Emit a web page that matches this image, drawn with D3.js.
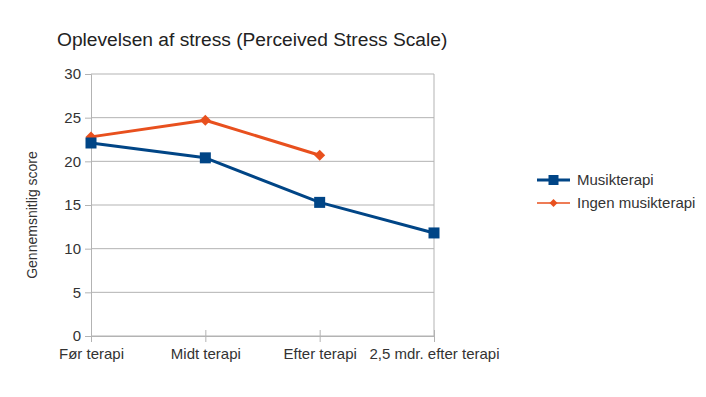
<!DOCTYPE html>
<html>
<head>
<meta charset="utf-8">
<script src="https://cdn.jsdelivr.net/npm/d3@7"></script>
<style>
  body { margin: 0; background: #fff; }
  svg { display: block; font-family: "Liberation Sans", Arial, sans-serif; }
</style>
</head>
<body>
<div id="chart"></div>
<script>
// data
const categories = ['Før terapi', 'Midt terapi', 'Efter terapi', '2,5 mdr. efter terapi'];
const musikterapi = [22.1, 20.4, 15.3, 11.8];
const ingenMusikterapi = [22.8, 24.7, 20.7, null];
const yTicks = [0, 5, 10, 15, 20, 25, 30];

const dims = { width: 706, height: 397 };
const margins = { left: 91, right: 272, top: 74, bottom: 61 };

const svg = d3.select('#chart')
  .append('svg')
  .attr('width', dims.width)
  .attr('height', dims.height);

const w = dims.width - margins.left - margins.right;
const h = dims.height - margins.top - margins.bottom;

const g = svg.append('g')
  .attr('transform', `translate(${margins.left},${margins.top})`);

const xScale = d3.scalePoint().domain(categories).range([0, w]).padding(0);
const yScale = d3.scaleLinear().domain([0, 30]).range([h, 0]);

// gridlines
g.append('g')
  .selectAll('line')
  .data(yTicks)
  .join('line')
    .attr('x1', 0)
    .attr('x2', w)
    .attr('y1', d => yScale(d))
    .attr('y2', d => yScale(d))
    .attr('stroke', '#b3b3b3')
    .attr('stroke-width', 1);

// right border
g.append('line')
  .attr('x1', w).attr('x2', w)
  .attr('y1', 0).attr('y2', h)
  .attr('stroke', '#b3b3b3');

const yAxis = d3.axisLeft(yScale).tickValues(yTicks).tickSize(6).tickPadding(4);
const yAxisGroup = g.append('g').attr('class', 'y-axis').call(yAxis);
yAxisGroup.select('.domain').attr('stroke', '#b3b3b3');
yAxisGroup.selectAll('line').attr('stroke', '#b3b3b3');
yAxisGroup.selectAll('text')
  .attr('font-size', 15)
  .attr('fill', '#333')
  .attr('font-family', 'Liberation Sans, Arial, sans-serif');

const xAxis = d3.axisBottom(xScale).tickSize(6).tickSizeOuter(0).tickPadding(6);
const xAxisGroup = g.append('g')
  .attr('class', 'x-axis')
  .attr('transform', `translate(0,${h})`)
  .call(xAxis);
xAxisGroup.select('.domain').attr('stroke', '#b3b3b3');
xAxisGroup.selectAll('line').attr('stroke', '#b3b3b3').attr('y1', -6).attr('y2', 6);
xAxisGroup.selectAll('text')
  .attr('font-size', 15)
  .attr('fill', '#333')
  .attr('font-family', 'Liberation Sans, Arial, sans-serif');

// series
const series = [
  { name: 'Musikterapi', values: musikterapi, color: '#004586', width: 3, marker: 'square' },
  { name: 'Ingen musikterapi', values: ingenMusikterapi, color: '#e8501e', width: 3, marker: 'diamond' }
];

const line = d3.line()
  .defined(d => d.v != null)
  .x(d => xScale(d.c))
  .y(d => yScale(d.v));

function marker(sel, s, size) {
  if (s.marker === 'square') {
    sel.append('rect')
      .attr('x', -size / 2).attr('y', -size / 2)
      .attr('width', size).attr('height', size)
      .attr('fill', s.color);
  } else {
    const r = size / 2;
    sel.append('path')
      .attr('d', `M0,${-r}L${r},0L0,${r}L${-r},0Z`)
      .attr('fill', s.color);
  }
}

// draw orange first, blue on top
series.slice().reverse().forEach(s => {
  const pts = categories.map((c, i) => ({ c, v: s.values[i] }));
  g.append('path')
    .datum(pts)
    .attr('d', line)
    .attr('fill', 'none')
    .attr('stroke', s.color)
    .attr('stroke-width', s.width)
    .attr('stroke-linejoin', 'round');
  pts.filter(d => d.v != null).forEach(d => {
    const m = g.append('g')
      .attr('transform', `translate(${xScale(d.c)},${yScale(d.v)})`);
    marker(m, s, 11);
  });
});

// title
svg.append('text')
  .attr('x', 57)
  .attr('y', 46)
  .attr('font-size', 19.2)
  .attr('fill', '#222')
  .text('Oplevelsen af stress (Perceived Stress Scale)');

// y axis title
svg.append('text')
  .attr('transform', `translate(37, ${margins.top + h / 2 + 10}) rotate(-90)`)
  .attr('text-anchor', 'middle')
  .attr('font-size', 14)
  .attr('fill', '#333')
  .text('Gennemsnitlig score');

// legend
const legend = svg.append('g').attr('transform', 'translate(537, 180)');
series.forEach((s, i) => {
  const row = legend.append('g').attr('transform', `translate(0, ${i * 23})`);
  row.append('line')
    .attr('x1', 0).attr('x2', 33)
    .attr('stroke', s.color)
    .attr('stroke-width', s.marker === 'square' ? 3 : 1.5);
  const m = row.append('g').attr('transform', 'translate(16.5, 0)');
  marker(m, s, s.marker === 'square' ? 10 : 8);
  row.append('text')
    .attr('x', 40)
    .attr('y', 5)
    .attr('font-size', 15)
    .attr('fill', '#333')
    .text(s.name);
});
</script>
</body>
</html>
